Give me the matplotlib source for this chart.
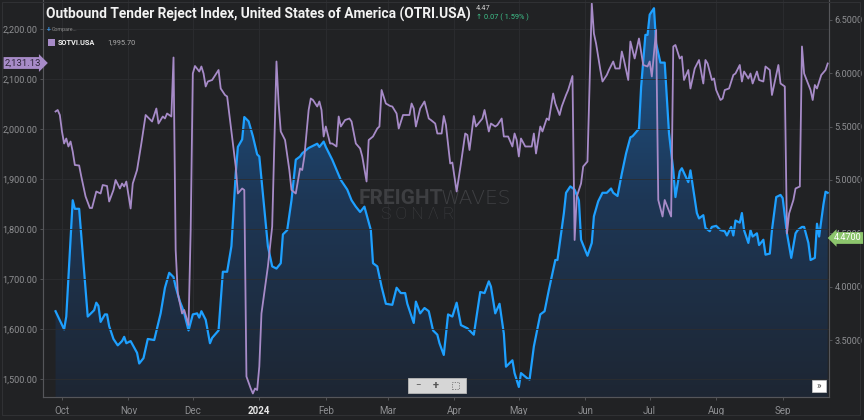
import numpy as np
import pandas as pd
import matplotlib
matplotlib.use('Agg')
from matplotlib import pyplot as plt
import matplotlib.dates as mdates
from matplotlib.patches import Rectangle, PathPatch
from matplotlib.colors import LinearSegmentedColormap

plt.rcParams['font.family'] = ['Roboto', 'DejaVu Sans']

start = pd.Timestamp('2023-10-01')

# OTRI.USA (blue, right axis) - days after 2023-10-01
otri_days = [
    -3, 1, 2, 5, 6, 8, 12, 15, 16, 17,
    18, 20, 21, 22, 24, 26, 28, 29, 30, 32,
    35, 36, 38, 40, 43, 46, 48, 50, 52, 53,
    55, 56, 57, 59, 61, 63, 64, 65, 67, 69,
    70, 73, 75, 77, 79, 81, 82, 84, 85, 87,
    89, 91, 92, 96, 98, 100, 102, 103, 105, 107,
    109, 111, 112, 115, 117, 119, 120, 122, 123, 126,
    130, 131, 133, 135, 137, 139, 141, 144, 145, 147,
    149, 151, 154, 156, 158, 160, 161, 164, 165, 167,
    169, 171, 173, 175, 176, 178, 180, 182, 184, 186,
    189, 192, 195, 197, 199, 200, 202, 204, 206, 207,
    210, 211, 213, 214, 217, 218, 220, 223, 225, 227,
    230, 231, 234, 235, 237, 239, 241, 242, 245, 247,
    248, 250, 252, 254, 256, 257, 259, 261, 263, 265,
    266, 269, 270, 272, 273, 274, 276, 277, 279, 281,
    283, 285, 286, 288, 289, 292, 293, 296, 297, 299,
    300, 302, 303, 305, 307, 309, 310, 312, 313, 314,
    316, 317, 318, 320, 321, 322, 324, 325, 327, 328,
    330, 331, 333, 335, 336, 338, 340, 342, 343, 345,
    346, 348, 349, 351, 352, 353, 355, 356, 357]
otri_vals = [
    3.77, 3.60, 3.72, 4.81, 4.73, 4.73, 3.72, 3.78, 3.85, 3.82,
    3.67, 3.74, 3.74, 3.63, 3.51, 3.45, 3.49, 3.53, 3.47, 3.49,
    3.38, 3.28, 3.33, 3.51, 3.50, 3.75, 3.99, 4.13, 4.09, 4.00,
    3.86, 3.81, 3.75, 3.59, 3.74, 3.75, 3.71, 3.77, 3.69, 3.47,
    3.52, 3.59, 4.14, 4.14, 4.38, 5.06, 5.31, 5.38, 5.59, 5.55,
    5.41, 5.24, 5.22, 4.38, 4.19, 4.17, 4.22, 4.49, 4.53, 4.81,
    5.19, 5.22, 5.25, 5.30, 5.32, 5.34, 5.31, 5.36, 5.31, 5.19,
    5.00, 4.97, 4.91, 4.81, 4.75, 4.70, 4.75, 4.53, 4.22, 4.19,
    4.00, 3.84, 3.83, 3.99, 3.94, 3.94, 3.84, 3.66, 3.86, 3.75,
    3.80, 3.77, 3.59, 3.55, 3.47, 3.36, 3.74, 3.72, 3.85, 3.64,
    3.61, 3.55, 3.95, 3.94, 4.05, 4.00, 3.75, 3.84, 3.56, 3.25,
    3.31, 3.19, 3.06, 3.19, 3.14, 3.13, 3.44, 3.74, 3.77, 3.97,
    4.25, 4.25, 4.69, 4.88, 4.94, 4.91, 4.81, 4.44, 4.29, 4.41,
    4.66, 4.80, 4.88, 4.88, 4.92, 4.88, 4.85, 5.06, 5.25, 5.40,
    5.41, 5.48, 5.87, 6.36, 6.36, 6.55, 6.61, 6.28, 6.10, 6.10,
    5.44, 5.09, 4.84, 5.08, 5.11, 4.98, 5.09, 4.69, 4.64, 4.67,
    4.55, 4.52, 4.56, 4.57, 4.53, 4.52, 4.48, 4.56, 4.48, 4.62,
    4.60, 4.69, 4.53, 4.41, 4.53, 4.47, 4.50, 4.39, 4.44, 4.30,
    4.31, 4.53, 4.84, 4.86, 4.83, 4.50, 4.27, 4.50, 4.53, 4.56,
    4.56, 4.41, 4.25, 4.27, 4.59, 4.47, 4.77, 4.89, 4.88]

# SOTVI.USA (purple, left axis) - days after 2023-10-01
sotvi_days = [
    -3, -2, -1, 0, 1, 2, 3, 4, 5, 6,
    8, 9, 11, 13, 14, 16, 18, 19, 21, 22,
    24, 25, 27, 28, 29, 30, 32, 33, 35, 37,
    39, 42, 44, 45, 47, 48, 49, 51, 52, 53,
    54, 56, 57, 59, 60, 61, 62, 64, 65, 66,
    67, 68, 70, 73, 74, 76, 77, 79, 81, 82,
    84, 85, 86, 88, 89, 90, 91, 92, 93, 96,
    98, 100, 101, 102, 104, 106, 107, 109, 111, 112,
    113, 115, 116, 117, 119, 120, 121, 122, 123, 125,
    126, 128, 129, 130, 132, 134, 135, 137, 139, 140,
    142, 143, 145, 147, 148, 149, 151, 153, 154, 156,
    157, 159, 161, 162, 163, 164, 165, 167, 169, 171,
    172, 174, 175, 177, 178, 179, 181, 182, 184, 186,
    188, 189, 190, 192, 193, 196, 197, 199, 200, 202,
    203, 205, 206, 208, 210, 211, 212, 213, 214, 216,
    219, 220, 221, 223, 224, 226, 227, 229, 230, 232,
    233, 235, 236, 238, 239, 240, 242, 243, 245, 247,
    248, 249, 251, 252, 254, 255, 257, 258, 260, 261,
    262, 264, 265, 267, 269, 271, 273, 274, 275, 277,
    278, 280, 281, 284, 285, 286, 288, 289, 290, 292,
    293, 295, 297, 299, 300, 301, 303, 304, 305, 307,
    308, 309, 311, 313, 314, 316, 317, 318, 320, 321,
    322, 324, 325, 327, 328, 330, 331, 333, 334, 335,
    337, 338, 339, 341, 342, 344, 345, 346, 349, 350,
    351, 352, 354, 356, 357]
sotvi_vals = [
    2035, 2038, 2028, 1995, 1971, 1981, 1965, 1975, 1955, 1928,
    1927, 1905, 1865, 1842, 1842, 1875, 1871, 1888, 1886, 1855,
    1878, 1898, 1881, 1891, 1885, 1895, 1841, 1891, 1918, 1971,
    2028, 2015, 2041, 2011, 2025, 2021, 2031, 2025, 2143, 1758,
    1671, 1631, 1638, 1608, 1798, 2111, 2126, 2115, 2125, 2111,
    2085, 2095, 2098, 2118, 2081, 2068, 2065, 1995, 1925, 1871,
    1881, 1878, 1505, 1481, 1471, 1481, 1478, 1525, 1631, 1725,
    1805, 2135, 2051, 1995, 1978, 1918, 1878, 1871, 1921, 1918,
    1945, 2038, 2061, 2058, 2045, 2055, 2038, 1985, 2005, 1971,
    1971, 1965, 2025, 2005, 2018, 2021, 2015, 1971, 1961, 1945,
    1895, 1978, 1985, 2001, 2005, 2078, 2051, 2046, 2045, 2031,
    2001, 2028, 2028, 2028, 2051, 2041, 2005, 2041, 2055, 2021,
    2018, 2011, 1991, 1991, 2026, 2008, 1931, 1933, 1875, 1931,
    1991, 1988, 1958, 2026, 2005, 2021, 2038, 1995, 2011, 2005,
    2008, 2021, 1985, 1985, 1965, 1991, 1978, 1945, 1981, 1965,
    1965, 1991, 1951, 2005, 1995, 2021, 2018, 2071, 2051, 2028,
    2045, 2068, 2078, 2106, 1778, 1865, 1891, 1925, 1935, 2251,
    2191, 2171, 2118, 2095, 2108, 2118, 2135, 2121, 2121, 2155,
    2138, 2098, 2175, 2141, 2181, 2128, 2125, 2135, 2105, 2198,
    1858, 1825, 1858, 1825, 2165, 2168, 2141, 2145, 2098, 2118,
    2081, 2121, 2138, 2091, 2138, 2131, 2098, 2101, 2078, 2058,
    2061, 2078, 2081, 2108, 2111, 2128, 2095, 2115, 2101, 2111,
    2091, 2115, 2098, 2095, 2125, 2118, 2068, 2108, 2128, 2091,
    2085, 1791, 1831, 1858, 1881, 1885, 2165, 2111, 2078, 2058,
    2088, 2081, 2108, 2118, 2131]

left_ticks = [1500, 1600, 1700, 1800, 1900, 2000, 2100, 2200]
right_ticks = [3.5, 4.0, 4.5, 5.0, 5.5, 6.0, 6.5]
month_ticks = pd.date_range('2023-10-01', '2024-09-01', freq='MS')
month_labels = ['Oct', 'Nov', 'Dec', '2024', 'Feb', 'Mar', 'Apr', 'May',
                'Jun', 'Jul', 'Aug', 'Sep']

title = 'Outbound Tender Reject Index, United States of America (OTRI.USA)'

bg = '#212224'
blue = '#1ea0ff'
purple = '#a78bc8'
txt_grey = '#8e8f92'
wm = '#3e3f42'

otri_dates = start + pd.to_timedelta(otri_days, unit='D')
sotvi_dates = start + pd.to_timedelta(sotvi_days, unit='D')

fig = plt.figure(figsize=(8.64, 4.2), dpi=100, facecolor=bg)
W, H = 864, 420
ax = fig.add_axes([43 / W, 23 / H, 786 / W, 397 / H], facecolor=bg)
ax_l = ax.twinx()
ax_l.patch.set_visible(False)

x0 = mdates.date2num(start + pd.Timedelta(days=-8.85))
x1 = mdates.date2num(start + pd.Timedelta(days=357.6))
ylo_r, yhi_r = 2.966, 6.687
ylo_l, yhi_l = 1464, 2258

# blue area with vertical gradient
xd = mdates.date2num(otri_dates)
poly = ax.fill_between(xd, otri_vals, ylo_r, facecolor='none', edgecolor='none')
clip = PathPatch(poly.get_paths()[0], transform=ax.transData,
                 facecolor='none', edgecolor='none')
ax.add_patch(clip)
cmap = LinearSegmentedColormap.from_list('otri', ['#1e2633', '#1d3756', '#1f5a93'])
grad = np.linspace(1, 0, 256).reshape(-1, 1)
im = ax.imshow(grad, extent=[x0, x1, ylo_r, yhi_r], aspect='auto', cmap=cmap,
               zorder=1)
im.set_clip_path(clip)
ax.plot(xd, otri_vals, color=blue, lw=1.6, zorder=3)

ax_l.plot(mdates.date2num(sotvi_dates), sotvi_vals, color=purple, lw=1.3, zorder=3)

ax.set_xlim(x0, x1)
ax.set_ylim(ylo_r, yhi_r)
ax_l.set_ylim(ylo_l, yhi_l)

# axes / ticks
ax.yaxis.tick_right()
ax_l.yaxis.tick_left()
ax.set_yticks(right_ticks)
ax.set_yticklabels(['{:.4f}'.format(v) for v in right_ticks])
ax_l.set_yticks(left_ticks)
ax_l.set_yticklabels(['{:,.2f}'.format(v) for v in left_ticks])
ax.set_xticks(mdates.date2num(month_ticks))
ax.set_xticklabels(month_labels)
for a in (ax, ax_l):
    a.tick_params(colors='#5a5b5e', labelcolor=txt_grey, labelsize=6.6,
                  length=2.5, width=0.6, pad=1.5)
    for s in a.spines.values():
        s.set_color('#55565a')
        s.set_linewidth(0.8)
    a.spines['top'].set_visible(False)
ax.tick_params(axis='x', pad=4, labelsize=7)
lbl = ax.get_xticklabels()[3]
lbl.set_color('#e6e6e6')
lbl.set_fontweight('bold')

ax_l.grid(axis='y', color='#2c2d30', lw=0.6)
ax_l.set_axisbelow(True)
ax.grid(axis='x', color='#2c2d30', lw=0.6, zorder=0)
ax.set_axisbelow(True)

# watermark
ax.text(0.401, 0.499, 'FREIGHT', transform=ax.transAxes, fontsize=15,
        fontweight='bold', color=wm, ha='left', va='center', zorder=2)
ax.text(0.506, 0.499, 'WAVES', transform=ax.transAxes, fontsize=14.5,
        family=['DejaVu Sans'], fontweight='light', color=wm, ha='left',
        va='center', zorder=2)
ax.text(0.477, 0.459, 'S O N \u039b R', transform=ax.transAxes, fontsize=12.5,
        fontweight='light', color=wm, ha='center', va='center', zorder=2)

# header texts
fig.text(46 / W, 1 - 14 / H, title, fontsize=9.9, fontweight='bold',
         color='#f2f2f2', va='center', ha='left')
fig.text(476 / W, 1 - 8 / H, '4.47', fontsize=5.3, color='#cfcfcf',
         va='center', ha='left')
fig.text(476 / W, 1 - 17 / H, '\u2191 0.07 ( 1.59% )', fontsize=5.3,
         color='#3fc28b', va='center', ha='left')
fig.text(47 / W, 1 - 30 / H, '+', fontsize=5, color='#3b8fd9', va='center',
         ha='left', fontweight='bold')
fig.text(52 / W, 1 - 30 / H, 'Compare...', fontsize=3.8, color='#8a8a8a',
         va='center', ha='left')
fig.add_artist(Rectangle((48 / W, 1 - 46 / H), 7 / W, 7 / H,
                         transform=fig.transFigure, facecolor=purple,
                         edgecolor='none'))
fig.text(58 / W, 1 - 43 / H, 'SOTVI.USA', fontsize=5.3, fontweight='bold',
         color='#eeeeee', va='center', ha='left')
fig.text(107 / W, 1 - 43 / H, '1,995.70', fontsize=5.3, color='#a8a8a8',
         va='center', ha='left')

# value tags (the green one sits over the 4.5000 label, as in the original)
fig.text(5 / W, 1 - 63 / H, '2,131.13', fontsize=6.8, color='#2d2538',
         va='center', ha='left', zorder=10,
         bbox=dict(boxstyle='rarrow,pad=0.15', fc=purple, ec='none'))
fig.text(834 / W, 1 - 238 / H, '4.4700', fontsize=6.6, color='white',
         va='center', ha='left', zorder=10,
         bbox=dict(boxstyle='larrow,pad=0.15', fc='#8cc56c', ec='none'))

# zoom controls
fig.add_artist(Rectangle((408 / W, 1 - 393 / H), 58 / W, 15 / H,
                         transform=fig.transFigure, facecolor='#d6d6d6',
                         edgecolor='#b8b8b8', lw=0.6, zorder=5))
fig.text(418 / W, 1 - 385.5 / H, '\u2212', fontsize=7, color='#555555',
         ha='center', va='center', zorder=6)
fig.text(436 / W, 1 - 385.5 / H, '+', fontsize=8, color='#555555',
         ha='center', va='center', zorder=6, fontweight='bold')
fig.add_artist(Rectangle((452 / W, 1 - 389 / H), 7 / W, 7 / H,
                         transform=fig.transFigure, facecolor='none',
                         edgecolor='#777777', lw=0.6, ls=(0, (1.5, 1.5)),
                         zorder=6))
fig.add_artist(Rectangle((812 / W, 1 - 392 / H), 14 / W, 12 / H,
                         transform=fig.transFigure, facecolor='white',
                         edgecolor='#cccccc', lw=0.5, zorder=5))
fig.text(819 / W, 1 - 386 / H, '\u00bb', fontsize=7, color='#444444',
         ha='center', va='center', zorder=6)

# outer frame
fig.add_artist(Rectangle((2 / W, 5 / H), 858 / W, 413 / H,
                         transform=fig.transFigure, facecolor='none',
                         edgecolor='#303134', lw=0.8))

fig.savefig('out.png', dpi=100, facecolor=bg)
